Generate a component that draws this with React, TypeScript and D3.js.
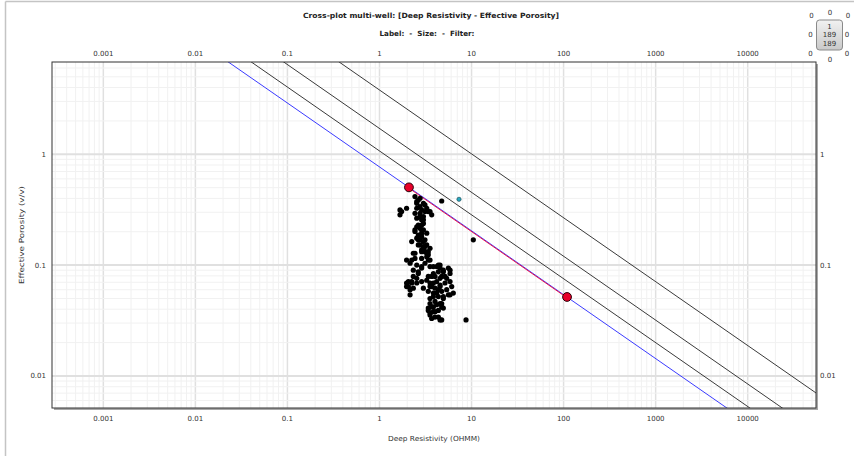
import React from "react";
import * as d3 from "d3";

// scatter points: deep resistivity (ohmm) and effective porosity (v/v)
const resistivity = [
  2.43, 2.54, 2.76, 3.0, 2.76, 2.43, 3.12, 3.54, 3.69, 1.67, 1.67, 1.97, 2.76, 3.0, 2.87, 2.54,
  2.87, 2.43, 2.64, 3.26, 2.87, 2.64, 3.0, 2.24, 3.12, 2.76, 3.0, 3.26, 3.39, 2.43, 1.97, 2.24,
  2.87, 3.26, 3.54, 2.54, 2.87, 2.33, 2.64, 4.36, 3.85, 4.55, 5.84, 4.94, 3.85, 3.39, 4.01, 4.74,
  5.37, 1.97, 2.24, 2.54, 2.06, 2.33, 2.15, 3.0, 3.54, 4.18, 3.69, 4.55, 5.15, 5.37, 5.84, 4.36,
  3.85, 3.39, 4.36, 4.94, 3.54, 4.01, 3.54, 4.55, 4.74, 3.85, 3.39, 3.54, 4.01, 4.36, 3.69, 4.74,
  4.74, 10.46, 8.71,
  2.64, 2.54, 3.12, 2.54, 2.87, 3.26, 3.39, 1.74, 2.76, 3.0, 2.54, 2.87, 3.0, 2.64, 2.43, 2.76,
  3.0, 2.87, 2.54, 2.76, 3.12, 2.64, 3.0, 3.26, 3.54, 2.87, 3.12, 3.39,
  2.33, 2.87, 3.26, 2.43, 3.39, 2.15, 3.12, 3.54, 2.87, 2.64, 2.33, 2.06, 2.24, 1.97, 2.15, 2.54,
  2.87, 3.26, 3.69, 4.18, 4.55, 4.36, 4.94, 5.6, 5.84, 5.15, 4.55, 3.85, 3.54, 4.01, 4.55, 5.84,
  6.09, 4.74, 4.18, 3.85, 4.94, 5.6, 6.34, 4.74, 4.18, 3.69, 3.39, 3.85, 4.36, 4.94, 3.54, 4.01,
  4.55,
];
const porosity = [
  0.415, 0.374, 0.401, 0.361, 0.337, 0.293, 0.304, 0.304, 0.284, 0.315, 0.284, 0.326, 0.274, 0.256, 0.23, 0.222,
  0.208, 0.201, 0.187, 0.194, 0.181, 0.169, 0.163, 0.163, 0.147, 0.152, 0.137, 0.132, 0.124, 0.128, 0.111, 0.111,
  0.115, 0.119, 0.111, 0.1, 0.097, 0.09, 0.087, 0.1, 0.097, 0.094, 0.09, 0.087, 0.084, 0.079, 0.079, 0.079,
  0.076, 0.069, 0.071, 0.076, 0.064, 0.062, 0.054, 0.062, 0.069, 0.071, 0.064, 0.066, 0.069, 0.06, 0.054, 0.06,
  0.056, 0.058, 0.052, 0.05, 0.05, 0.047, 0.045, 0.045, 0.042, 0.042, 0.041, 0.037, 0.038, 0.034, 0.033, 0.032,
  0.379, 0.169, 0.032,
  0.387, 0.361, 0.349, 0.326, 0.315, 0.326, 0.304, 0.304, 0.293, 0.274, 0.265, 0.256, 0.238, 0.23, 0.208, 0.215,
  0.208, 0.194, 0.175, 0.169, 0.169, 0.152, 0.147, 0.152, 0.142, 0.137, 0.132, 0.132,
  0.128, 0.132, 0.128, 0.115, 0.111, 0.104, 0.104, 0.097, 0.094, 0.084, 0.079, 0.071, 0.069, 0.064, 0.06, 0.069,
  0.071, 0.073, 0.079, 0.097, 0.1, 0.087, 0.09, 0.094, 0.084, 0.079, 0.076, 0.069, 0.064, 0.062, 0.064, 0.071,
  0.064, 0.058, 0.056, 0.052, 0.052, 0.054, 0.056, 0.045, 0.044, 0.042, 0.039, 0.038, 0.039, 0.041, 0.0355, 0.034,
  0.032,
];

// highlighted point (another well)
const otherRt = [7.31];
const otherPhi = [0.3925];

// Rw line control points
const controlRt = [2.09, 109];
const controlPhi = [0.503, 0.0516];

// Pickett lines: Rt = aRw / (phi^m * Sw^n)
const aRw = 0.634;
const mExp = 1.735;
const nExp = 2;
const saturations = [1, 0.75, 0.5, 0.25];

const xTicks = [0.001, 0.01, 0.1, 1, 10, 100, 1000, 10000];
const yTicks = [0.01, 0.1, 1];

const W = 854;
const H = 456;
const left = 52;
const right = 816;
const top = 62;
const bottom = 408;
const font = "'DejaVu Sans', Verdana, sans-serif";

function minorTicks(domain: number[]) {
  const out: { v: number; major: boolean }[] = [];
  const e0 = Math.floor(Math.log10(domain[0]));
  const e1 = Math.ceil(Math.log10(domain[1]));
  for (let e = e0; e <= e1; e++) {
    for (let k = 1; k < 10; k++) {
      const v = k * Math.pow(10, e);
      if (v >= domain[0] && v <= domain[1]) out.push({ v, major: k === 1 });
    }
  }
  return out;
}

export default function App() {
  const x = d3.scaleLog().domain([0.000277, 55200]).range([left, right]);
  const y = d3.scaleLog().domain([0.00514, 6.8]).range([bottom, top]);

  const phiAt = (rt: number, sw: number) => Math.pow(aRw / (rt * Math.pow(sw, nExp)), 1 / mExp);
  const line = d3
    .line<[number, number]>()
    .x(d => x(d[0]))
    .y(d => y(d[1]));

  const xd = x.domain();
  const satLines = saturations.map(sw => [
    [xd[0], phiAt(xd[0], sw)],
    [xd[1], phiAt(xd[1], sw)],
  ] as [number, number][]);

  const ctrl = controlRt.map((r, i) => [r, controlPhi[i]] as [number, number]);

  const small = { fontFamily: font, fontSize: 7, fill: "#333" };

  return (
    <svg
      width={W}
      height={H}
      style={{ position: "absolute", left: 0, top: 0, background: "#fff" }}
    >
      <defs>
        <clipPath id="plotClip">
          <rect x={left} y={top} width={right - left} height={bottom - top} />
        </clipPath>
        <linearGradient id="boxGrad" x1="0" y1="0" x2="0" y2="1">
          <stop offset="0" stopColor="#f2f2f2" />
          <stop offset="1" stopColor="#c9c9c9" />
        </linearGradient>
      </defs>

      {/* panel border */}
      <line x1={5.5} y1={1.5} x2={W} y2={1.5} stroke="#c4c4c4" strokeWidth={1.5} />
      <line x1={5.5} y1={1.5} x2={5.5} y2={H} stroke="#c4c4c4" strokeWidth={1.5} />

      {/* titles */}
      <text x={431} y={18} textAnchor="middle" fontFamily={font} fontSize={7.2} fontWeight="bold" fill="#222" textLength={256} lengthAdjust="spacingAndGlyphs">
        Cross-plot multi-well: [Deep Resistivity - Effective Porosity]
      </text>
      <text x={427} y={35.5} textAnchor="middle" fontFamily={font} fontSize={7.2} fontWeight="bold" fill="#222" xmlSpace="preserve">
        {"Label:  -  Size:  -  Filter:"}
      </text>

      {/* top-right selector widget */}
      <g style={small} textAnchor="middle">
        <rect x={816.5} y={20} width={26} height={30} rx={3} fill="url(#boxGrad)" stroke="#8a8a8a" />
        <text x={829.5} y={28.5}>1</text>
        <text x={829.5} y={37}>189</text>
        <text x={829.5} y={45.5}>189</text>
        <text x={830} y={15}>0</text>
        <text x={811.5} y={17.5}>0</text>
        <text x={848} y={17.5}>0</text>
        <text x={810.5} y={37}>0</text>
        <text x={847} y={37}>0</text>
        <text x={810.5} y={56}>0</text>
        <text x={847} y={56}>0</text>
        <text x={830} y={61.5}>0</text>
      </g>

      {/* plot frame shadow + background */}
      <rect x={left + 2} y={top + 2} width={right - left} height={bottom - top} fill="#a8a8a8" />
      <rect x={left} y={top} width={right - left} height={bottom - top} fill="#fff" />

      {/* grid */}
      <g clipPath="url(#plotClip)">
        {minorTicks(x.domain()).map((t, i) => (
          <line key={"gx" + i} x1={x(t.v)} x2={x(t.v)} y1={top} y2={bottom}
            stroke={t.major ? "#e0e0e0" : "#f1f1f1"} strokeWidth={t.major ? 1.5 : 1} />
        ))}
        {minorTicks(y.domain()).map((t, i) => (
          <line key={"gy" + i} x1={left} x2={right} y1={y(t.v)} y2={y(t.v)}
            stroke={t.major ? "#e0e0e0" : "#f1f1f1"} strokeWidth={t.major ? 2 : 1} />
        ))}
      </g>

      {/* saturation lines */}
      <g clipPath="url(#plotClip)" fill="none">
        {satLines.map((pts, i) => (
          <path key={"s" + i} d={line(pts) || ""} stroke={i === 0 ? "#3b3bff" : "#3a3a3a"} strokeWidth={1} />
        ))}
        <path d={line(ctrl) || ""} stroke="#e8104a" strokeWidth={1} transform="translate(0,0.8)" />
      </g>

      {/* scatter */}
      <g clipPath="url(#plotClip)">
        {resistivity.map((r, i) => (
          <circle key={"p" + i} cx={x(r)} cy={y(porosity[i])} r={2.6} fill="#000" />
        ))}
        {otherRt.map((r, i) => (
          <circle key={"o" + i} cx={x(r)} cy={y(otherPhi[i])} r={2.1} fill="#2aa8c0" stroke="#0a3a46" strokeWidth={0.6} />
        ))}
        {ctrl.map((d, i) => (
          <circle key={"c" + i} cx={x(d[0])} cy={y(d[1])} r={4.4} fill="#e8002a" stroke="#2a0008" strokeWidth={1} />
        ))}
      </g>

      {/* frame */}
      <rect x={left} y={top} width={right - left} height={bottom - top} fill="none" stroke="#333" strokeWidth={1} />

      {/* axis labels */}
      <g style={small} textAnchor="middle">
        {xTicks.map(t => (
          <text key={"xt" + t} x={x(t)} y={56}>{t}</text>
        ))}
        {xTicks.map(t => (
          <text key={"xb" + t} x={x(t)} y={421}>{t}</text>
        ))}
      </g>
      <g style={small}>
        {yTicks.map(t => (
          <text key={"yl" + t} x={46} y={y(t) + 2.5} textAnchor="end">{t}</text>
        ))}
        {yTicks.map(t => (
          <text key={"yr" + t} x={820} y={y(t) + 2.5} textAnchor="start">{t}</text>
        ))}
      </g>

      <text x={434} y={441} textAnchor="middle" style={small} textLength={92} lengthAdjust="spacingAndGlyphs">
        Deep Resistivity (OHMM)
      </text>
      <text transform={`translate(24,${(top + bottom) / 2}) rotate(-90)`} textAnchor="middle" style={small} textLength={98} lengthAdjust="spacingAndGlyphs">
        Effective Porosity (v/v)
      </text>
    </svg>
  );
}
